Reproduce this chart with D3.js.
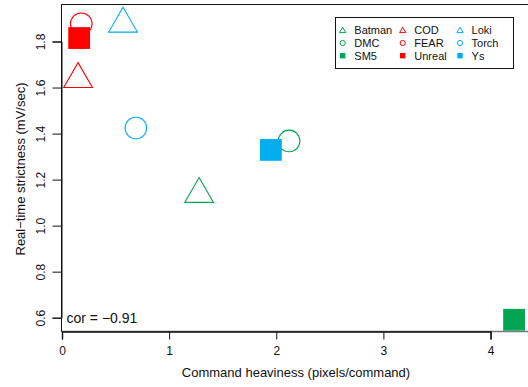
<!DOCTYPE html>
<html>
<head>
<meta charset="utf-8">
<script src="https://cdn.jsdelivr.net/npm/d3@7"></script>
<style>
  html, body { margin: 0; padding: 0; background: #fff; }
  svg { display: block; font-family: "Liberation Sans", Arial, Helvetica, sans-serif; }
</style>
</head>
<body>
<svg id="chart" width="528" height="387"></svg>
<script>
// Engines, ordered by group colour then symbol
const engines    = ["Batman", "COD", "DMC", "FEAR", "Loki", "SM5", "Torch", "Unreal", "Ys"];
const heaviness  = [1.28, 0.15, 2.12, 0.18, 0.57, 4.22, 0.69, 0.16, 1.95];   // pixels/command
const strictness = [1.137, 1.636, 1.368, 1.877, 1.877, 0.591, 1.424, 1.815, 1.329]; // mV/sec
const shapes     = ["triangle", "triangle", "circle", "circle", "triangle", "square", "circle", "square", "square"];
const groups     = ["green", "red", "green", "red", "blue", "green", "blue", "red", "blue"];

// Legend is filled column by column
const legendOrder = ["Batman", "DMC", "SM5", "COD", "FEAR", "Unreal", "Loki", "Torch", "Ys"];

const xTicks = [0, 1, 2, 3, 4];
const yTicks = [0.6, 0.8, 1.0, 1.2, 1.4, 1.6, 1.8];
const correlation = "cor = \u22120.91";

const palette = { green: "#00A651", red: "#FF0000", blue: "#00AEEF" };

const svg = d3.select("#chart");

const x = d3.scaleLinear().domain([0, 4]).range([62, 490.5]);
const y = d3.scaleLinear().domain([0.6, 1.8]).range([317.7, 41.5]);

const box = { left: 61, top: 4, right: 540, bottom: 331.5 };

// Plot frame
svg.append("line").attr("x1", box.left).attr("x2", box.right)
  .attr("y1", box.bottom).attr("y2", box.bottom)
  .attr("stroke", "#777").attr("stroke-width", 1.4);
svg.append("path")
  .attr("d", `M${box.right},${box.top + 0.5}H${box.left + 0.5}V${box.bottom}`)
  .attr("fill", "none").attr("stroke", "#111").attr("stroke-width", 1);

// Axes
const xAxis = d3.axisBottom(x).tickValues(xTicks).tickFormat(d3.format("d"))
  .tickSizeOuter(0).tickSize(8).tickPadding(7);
const gx = svg.append("g").attr("transform", `translate(0,${box.bottom})`).call(xAxis);
gx.select(".domain").attr("stroke", "#111").attr("stroke-width", 1.4);
gx.selectAll(".tick line").attr("stroke", "#111");
gx.selectAll(".tick text").attr("font-size", 12).attr("fill", "#111")
  .attr("font-family", "Liberation Sans, Arial, sans-serif");

const yAxis = d3.axisLeft(y).tickValues(yTicks).tickFormat(d3.format(".1f"))
  .tickSizeOuter(0).tickSize(9);
const gy = svg.append("g").attr("transform", `translate(${box.left + 0.5},0)`).call(yAxis);
gy.select(".domain").attr("stroke", "#111");
gy.selectAll(".tick line").attr("stroke", "#111");
gy.selectAll(".tick text")
  .attr("font-size", 12).attr("fill", "#111")
  .attr("font-family", "Liberation Sans, Arial, sans-serif")
  .attr("x", null).attr("dy", null)
  .attr("text-anchor", "middle")
  .attr("transform", "translate(-21,0) rotate(-90)")
  .attr("dy", "0.35em");

// Axis titles
svg.append("text").attr("x", 296).attr("y", 377).attr("text-anchor", "middle")
  .attr("font-size", 13).attr("fill", "#111")
  .text("Command heaviness (pixels/command)");
svg.append("text").attr("transform", "translate(25,169) rotate(-90)")
  .attr("text-anchor", "middle").attr("font-size", 13).attr("fill", "#111")
  .text("Real\u2212time strictness (mV/sec)");

// Symbol geometry: triangles sit apex-up around the point
function symbolPath(shape, r) {
  if (shape === "triangle") {
    const xc = r * Math.sqrt(3) / 2;
    return `M0,${-r}L${xc},${r / 2}L${-xc},${r / 2}Z`;
  }
  if (shape === "circle") {
    return `M${r},0A${r},${r} 0 1,1 ${-r},0A${r},${r} 0 1,1 ${r},0Z`;
  }
  return `M${-r},${-r}H${r}V${r}H${-r}Z`;
}
const sizeFor = { triangle: 16.6, circle: 10.8, square: 10.9 };
const legendSize = { triangle: 3.6, circle: 2.6, square: 2.7 };

const pts = engines.map((e, i) => ({
  engine: e, hx: heaviness[i], sy: strictness[i], shape: shapes[i], colour: palette[groups[i]]
}));

svg.append("g").selectAll("path").data(pts).join("path")
  .attr("transform", d => `translate(${x(d.hx)},${y(d.sy)})`)
  .attr("d", d => symbolPath(d.shape, sizeFor[d.shape]))
  .attr("fill", d => d.shape === "square" ? d.colour : "none")
  .attr("stroke", d => d.shape === "square" ? "none" : d.colour)
  .attr("stroke-width", 1.1);

// Correlation note
svg.append("text").attr("x", 66.5).attr("y", 323).attr("font-size", 14).attr("fill", "#111")
  .text(correlation);

// Legend
const lg = svg.append("g");
lg.append("rect").attr("x", 335.5).attr("y", 17.5).attr("width", 178).attr("height", 51)
  .attr("fill", "#fff").attr("stroke", "#111").attr("stroke-width", 1);
const colX = [342.7, 402.7, 460];
const rowY = [30, 43, 55.7];
legendOrder.forEach((name, k) => {
  const i = engines.indexOf(name);
  const d = pts[i];
  const cx = colX[Math.floor(k / 3)], cy = rowY[k % 3];
  lg.append("path")
    .attr("transform", `translate(${cx},${cy + (d.shape === "triangle" ? 0.8 : 0)})`)
    .attr("d", symbolPath(d.shape, legendSize[d.shape]))
    .attr("fill", d.shape === "square" ? d.colour : "none")
    .attr("stroke", d.shape === "square" ? "none" : d.colour)
    .attr("stroke-width", 1);
  lg.append("text").attr("x", cx + 11.6).attr("y", cy).attr("dy", "0.36em")
    .attr("font-size", 11).attr("fill", "#111").text(name);
});
</script>
</body>
</html>
